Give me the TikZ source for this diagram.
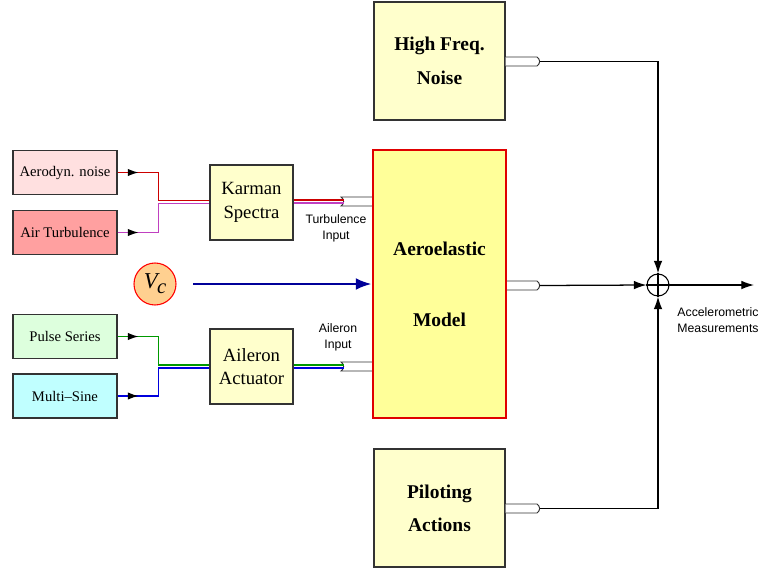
\documentclass[tikz,border=0pt]{standalone}
\usepackage{fontspec}
\setmainfont{Liberation Serif}
\setsansfont{Liberation Sans}
\usetikzlibrary{arrows.meta}

\definecolor{srcpink}{HTML}{FFE0E0}
\definecolor{srcred}{HTML}{FFA0A0}
\definecolor{srcgreen}{HTML}{DDFFDD}
\definecolor{srccyan}{HTML}{C0FFFF}
\definecolor{blockfill}{HTML}{FFFFCC}
\definecolor{modelfill}{HTML}{FFFF99}
\definecolor{modeledge}{HTML}{E00000}
\definecolor{vcfill}{HTML}{FFD090}
\definecolor{vcarrow}{HTML}{000099}
\definecolor{wirered}{HTML}{CC0000}
\definecolor{wiremag}{HTML}{C040C0}
\definecolor{wiregreen}{HTML}{009900}
\definecolor{wireblue}{HTML}{0000DD}
\definecolor{edge}{HTML}{333333}

\tikzset{
  srcbox/.style={draw=edge, line width=0.8pt, minimum width=104*0.75pt,
    minimum height=44*0.75pt, inner sep=0pt, font=\fontsize{11}{13}\selectfont},
  midbox/.style={draw=edge, fill=blockfill, line width=0.8pt, minimum width=83*0.75pt,
    minimum height=75*0.75pt, inner sep=0pt, align=center,
    font=\fontsize{14}{17.5}\selectfont},
  bigbox/.style={draw=edge, fill=blockfill, line width=0.8pt, minimum width=131*0.75pt,
    minimum height=118*0.75pt, inner sep=0pt, align=center,
    font=\fontsize{14.6}{25}\selectfont\bfseries},
  lbl/.style={font=\sffamily\fontsize{9.2}{12}\selectfont, align=center, inner sep=0pt},
  wire/.style={line width=0.95pt},
  tip/.style={-{Latex[length=8pt,width=5.5pt,color=black]}},
  sigtip/.style={-{Latex[length=9.5pt,width=6.5pt]}},
  portline/.style={draw=edge, line width=0.7pt, fill=white},
}

\begin{document}
\begin{tikzpicture}[x=0.75pt,y=-0.75pt]
\useasboundingbox (0,0) rectangle (763,572);

% source blocks
\node[srcbox, fill=srcpink] (aero) at (65,172.5) {Aerodyn. noise};
\node[srcbox, fill=srcred] (turb) at (65,232.5) {Air Turbulence};
\node[srcbox, fill=srcgreen] (pulse) at (65,336.5) {Pulse Series};
\node[srcbox, fill=srccyan] (msine) at (65,396) {Multi\textendash Sine};

% filters
\node[midbox] (karman) at (251.5,202.5) {Karman\\Spectra};
\node[midbox] (ail) at (251.5,366.5) {Aileron\\Actuator};

% main blocks
\node[bigbox] (hfn) at (439.5,61) {High Freq.\\Noise};
\node[bigbox, fill=modelfill, draw=modeledge, line width=1.8pt,
  minimum width=133*0.75pt, minimum height=268*0.75pt, font=\fontsize{14.6}{53}\selectfont\bfseries]
  (model) at (439.5,284) {Aeroelastic\\Model};
\node[bigbox] (pil) at (439.5,508) {Piloting\\Actions};

% velocity input
\node[circle, draw=red, fill=vcfill, line width=0.8pt, minimum size=42*0.75pt, inner sep=0pt,
  font=\fontsize{17}{17}\selectfont\itshape] (vc) at (155,284)
  {\raisebox{1.2pt}{V\kern-0.5pt\raisebox{-3.5pt}{\fontsize{15.5}{15.5}\selectfont c}}};

% summing junction
\node[circle, draw=black, line width=0.8pt, minimum size=22*0.75pt, inner sep=0pt] (sum) at (658,285) {};
\draw[line width=0.8pt] (sum.north) -- (sum.south) (sum.west) -- (sum.east);

% input ports of the model
\draw[portline] (model.west |- 0,197) -- (341,197) .. controls (344.5,199.5) and (344.5,203.5) .. (341,206) -- (model.west |- 0,206);
\coordinate (tport) at (343.6,201.5);
\draw[portline] (model.west |- 0,362) -- (341,362) .. controls (344.5,364.5) and (344.5,368.5) .. (341,371) -- (model.west |- 0,371);
\coordinate (aport) at (343.6,366.5);

% output ports
\draw[portline] (hfn.east |- 0,57) -- (537,57) .. controls (540.5,59.5) and (540.5,63.5) .. (537,66) -- (hfn.east |- 0,66);
\coordinate (hport) at (539.6,61.5);
\draw[portline] (model.east |- 0,281) -- (537,281) .. controls (540.5,283.5) and (540.5,287.5) .. (537,290) -- (model.east |- 0,290);
\coordinate (mport) at (539.6,285.5);
\draw[portline] (pil.east |- 0,504) -- (537,504) .. controls (540.5,506.5) and (540.5,510.5) .. (537,513) -- (pil.east |- 0,513);
\coordinate (pport) at (539.6,508.5);

% turbulence channel
\draw[wire, wirered] (aero.east) -- ++(41,0) |- (karman.west |- 0,200.5);
\draw[wire, wirered, tip] (aero.east) -- ++(21,0);
\draw[wire, wiremag] (turb.east) -- ++(41,0) |- (karman.west |- 0,203.5);
\draw[wire, wiremag, tip] (turb.east) -- ++(21,0);
\draw[wire, wirered] (karman.east |- 0,200) -- (tport |- 0,200);
\draw[wire, wiremag] (karman.east |- 0,203) -- (tport |- 0,203);

% aileron channel
\draw[wire, wiregreen] (pulse.east) -- ++(41,0) |- (ail.west |- 0,365);
\draw[wire, wiregreen, tip] (pulse.east) -- ++(21,0);
\draw[wire, wireblue] (msine.east) -- ++(41,0) |- (ail.west |- 0,368);
\draw[wire, wireblue, tip] (msine.east) -- ++(21,0);
\draw[wire, wiregreen] (ail.east |- 0,365) -- (aport |- 0,365);
\draw[wire, wireblue] (ail.east |- 0,368) -- (aport |- 0,368);

% flight speed
\draw[vcarrow, line width=2.2pt, -{Latex[length=12pt,width=9pt]}] (193,284) -- (model.west |- 0,284);

% measured outputs
\draw[wire, sigtip] (hport) -| (sum.north);
\draw[wire, sigtip] (mport) -- (sum.west);
\draw[wire, sigtip] (pport) -| (sum.south);
\draw[wire, sigtip] (sum.east) -- (754,285);

% labels
\node[lbl] (tlbl) at (336,228) {Turbulence\\Input};
\node[lbl] (albl) at (338,337) {Aileron\\Input};
\node[lbl] (olbl) at (718,320) {Accelerometric\\Measurements};
\end{tikzpicture}
\end{document}
